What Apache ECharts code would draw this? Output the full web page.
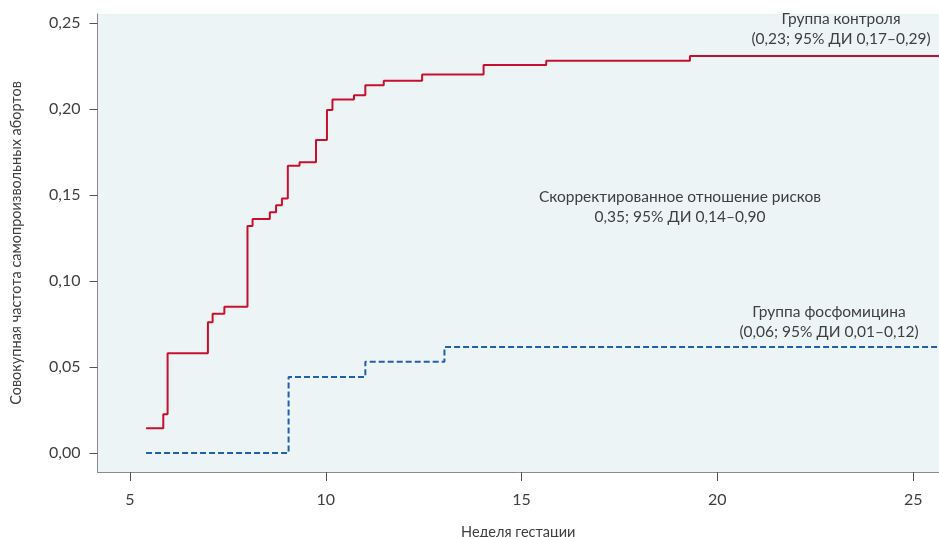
<!DOCTYPE html>
<html>
<head>
<meta charset="utf-8">
<script src="https://cdn.jsdelivr.net/npm/echarts@6/dist/echarts.min.js"></script>
<style>
  html, body { margin: 0; padding: 0; background: #fff; }
  #chart { width: 939px; height: 537px; }
</style>
</head>
<body>
<div id="chart"></div>
<script>
// неделя гестации -> совокупная частота (ступенчатые кривые)
var controlWeeks = [5.41, 5.85, 5.96, 6.99, 7.11, 7.41, 8.0, 8.13, 8.57, 8.73, 8.88, 9.03, 9.33, 9.75, 10.03, 10.17, 10.72, 11.01, 11.48, 12.46, 14.03, 15.63, 19.3, 26];
var controlValues = [0.0145, 0.0225, 0.058, 0.076, 0.081, 0.085, 0.132, 0.136, 0.140, 0.144, 0.148, 0.167, 0.169, 0.182, 0.1994, 0.2055, 0.208, 0.2138, 0.2164, 0.220, 0.2256, 0.228, 0.2308, 0.2308];
var fosfoWeeks = [5.41, 9.05, 11.01, 13.03, 26];
var fosfoValues = [0, 0.0442, 0.0531, 0.0616, 0.0616];

var xTicks = [5, 10, 15, 20, 25];
var yTicks = [0, 0.05, 0.10, 0.15, 0.20, 0.25];

var controlLabel = ['Группа контроля', '(0,23; 95% ДИ 0,17–0,29)'];
var hrLabel = ['Скорректированное отношение рисков', '0,35; 95% ДИ 0,14–0,90'];
var fosfoLabel = ['Группа фосфомицина', '(0,06; 95% ДИ 0,01–0,12)'];

function pairs(xs, ys) {
	return xs.map(function (x, i) { return [x, ys[i]]; });
}

var FONT = 'Lato, "Noto Sans", sans-serif';
var TXT = '#3f3f3f';

var myChart = echarts.init(document.getElementById('chart'));

function note(lines, cx, cy) {
	return {
		type: 'text',
		x: cx,
		y: cy,
		style: {
			text: lines.join('\n'),
			align: 'center',
			verticalAlign: 'top',
			font: '15.5px ' + FONT,
			fill: TXT,
			lineHeight: 20
		}
	};
}

myChart.setOption({
	animation: false,
	grid: {
		left: 97.5,
		top: 14,
		right: 0,
		bottom: 65,
		outerBoundsMode: 'none',
		containLabel: false,
		show: true,
		backgroundColor: '#edf4f6',
		borderWidth: 0
	},
	xAxis: {
		type: 'value',
		min: 4.17,
		max: 25.66,
		name: 'Неделя гестации',
		nameLocation: 'middle',
		nameGap: 53,
		nameTextStyle: { fontFamily: FONT, fontSize: 14.5, color: TXT },
		axisLine: { show: true, onZero: false, lineStyle: { color: '#8a8a8a', width: 1 } },
		axisTick: { show: true, customValues: xTicks, length: 9, lineStyle: { color: '#555' } },
		axisLabel: {
			customValues: xTicks,
			margin: 20,
			fontFamily: FONT, fontSize: 16, color: TXT
		},
		splitLine: { show: false }
	},
	yAxis: {
		type: 'value',
		min: -0.011,
		max: 0.2552,
		name: 'Совокупная частота самопроизвольных абортов',
		nameLocation: 'middle',
		nameGap: 74,
		nameTextStyle: { fontFamily: FONT, fontSize: 14.5, color: TXT },
		axisLine: { show: true, onZero: false, lineStyle: { color: '#8a8a8a', width: 1 } },
		axisTick: { show: true, customValues: yTicks, length: 8, lineStyle: { color: '#555' } },
		axisLabel: {
			customValues: yTicks,
			margin: 17,
			fontFamily: FONT, fontSize: 16, color: TXT,
			formatter: function (v) { return v.toFixed(2).replace('.', ','); }
		},
		splitLine: { show: false }
	},
	series: [{
		name: 'Группа контроля',
		type: 'line',
		step: 'end',
		symbol: 'none',
		data: pairs(controlWeeks, controlValues),
		lineStyle: { color: '#c8102e', width: 2 }
	}, {
		name: 'Группа фосфомицина',
		type: 'line',
		step: 'end',
		symbol: 'none',
		data: pairs(fosfoWeeks, fosfoValues),
		lineStyle: { color: '#1f5fae', width: 2, type: [6, 3] }
	}],
	graphic: [
		note(controlLabel, 841, 9),
		note(hrLabel, 680, 187),
		note(fosfoLabel, 829, 302)
	]
});

window.addEventListener('resize', function () {
	myChart.resize();
});
</script>
</body>
</html>
